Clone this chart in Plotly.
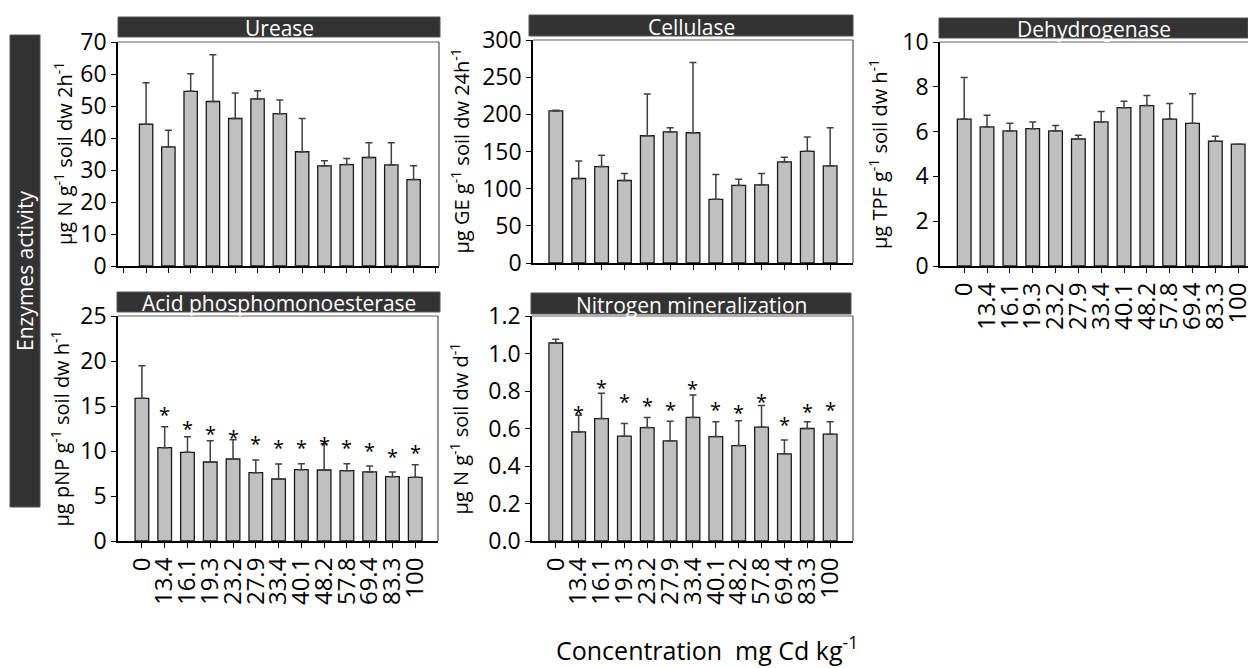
import plotly.graph_objects as go

W, H = 1248, 668
FONT = "Open Sans"

# ---------------- data ----------------
conc = ["0", "13.4", "16.1", "19.3", "23.2", "27.9", "33.4", "40.1", "48.2", "57.8", "69.4", "83.3", "100"]

urease = [44.3, 37.2, 54.6, 51.4, 46.1, 52.2, 47.6, 35.7, 31.3, 31.7, 33.9, 31.6, 27.0]
urease_sd = [13.0, 5.2, 5.5, 14.6, 8.0, 2.6, 4.3, 10.4, 1.6, 1.9, 4.6, 6.9, 4.3]

cellulase = [204.6, 113.7, 129.7, 111.0, 171.2, 176.5, 175.2, 85.6, 104.3, 105.2, 136.0, 150.2, 130.6]
cellulase_sd = [0.9, 23.6, 15.2, 9.4, 56.2, 5.4, 94.5, 33.4, 8.5, 15.2, 6.2, 19.2, 51.3]

dehydrogenase = [6.56, 6.21, 6.03, 6.13, 6.03, 5.67, 6.43, 7.07, 7.16, 6.56, 6.37, 5.57, 5.44]
dehydrogenase_sd = [1.85, 0.52, 0.34, 0.30, 0.24, 0.17, 0.47, 0.28, 0.45, 0.70, 1.32, 0.22, 0.0]

acid_p = [15.85, 10.37, 9.85, 8.78, 9.11, 7.59, 6.89, 7.93, 7.89, 7.81, 7.67, 7.15, 7.07]
acid_p_sd = [3.63, 2.33, 1.74, 2.37, 2.15, 1.41, 1.67, 0.66, 2.92, 0.78, 0.66, 0.52, 1.41]
acid_p_star = [None, 14.33, 12.74, 12.22, 11.74, 11.11, 10.56, 10.56, 10.93, 10.56, 10.30, 9.63, 10.07]

nitrogen = [1.056, 0.582, 0.653, 0.559, 0.605, 0.534, 0.659, 0.557, 0.509, 0.607, 0.465, 0.600, 0.570]
nitrogen_sd = [0.020, 0.089, 0.135, 0.068, 0.054, 0.105, 0.120, 0.079, 0.132, 0.116, 0.073, 0.036, 0.066]
nitrogen_star = [None, 0.689, 0.831, 0.754, 0.733, 0.712, 0.822, 0.712, 0.698, 0.756, 0.630, 0.701, 0.712]

titles = ["Urease", "Cellulase", "Dehydrogenase", "Acid phosphomonoesterase", "Nitrogen mineralization"]
ytitles = [
    "µg N g<sup>-1</sup> soil dw 2h<sup>-1</sup>",
    "µg GE g<sup>-1</sup> soil dw 24h<sup>-1</sup>",
    "µg TPF g<sup>-1</sup> soil dw h<sup>-1</sup>",
    "µg pNP g<sup>-1</sup> soil dw h<sup>-1</sup>",
    "µg N g<sup>-1</sup> soil dw d<sup>-1</sup>",
]

# ---------------- layout geometry (pixels) ----------------
panels = [
    dict(box=(118, 439, 42, 266), bar=(118, 440, 17, 37), ytx=63, xr=(-1.26, 13.14), yr=(0, 70), dt=10, lab=False, tv=list(range(-1, 14)), fmt=None, right=True),
    dict(box=(533, 853, 40, 263), bar=(529, 853, 15, 36), ytx=460, xr=(-1.0, 13.0), yr=(0, 300), dt=50, lab=False, tv=list(range(13)), fmt=None, right=True),
    dict(box=(940, 1248, 42, 266), bar=(939, 1248, 18, 38), ytx=878, xr=(-1.06, 12.43), yr=(0, 10), dt=2, lab=True, tv=list(range(13)), fmt=None, right=False),
    dict(box=(118, 438, 316, 541), bar=(117, 440, 292, 312), ytx=60, xr=(-1.05, 13.0), yr=(0, 25), dt=5, lab=True, tv=list(range(13)), fmt=None, right=True),
    dict(box=(532, 853, 316, 541), bar=(531, 851, 293, 314), ytx=459, xr=(-1.04, 13.0), yr=(0, 1.2), dt=0.2, lab=True, tv=list(range(13)), fmt=".1f", right=True),
]

series = [(urease, urease_sd), (cellulase, cellulase_sd), (dehydrogenase, dehydrogenase_sd),
          (acid_p, acid_p_sd), (nitrogen, nitrogen_sd)]
stars = [None, None, None, acid_p_star, nitrogen_star]

def px(x):
    return x / W

def py(y):
    return 1 - y / H

fig = go.Figure()
layout = dict(
    width=W, height=H,
    margin=dict(l=0, r=0, t=0, b=0, autoexpand=False),
    paper_bgcolor="white", plot_bgcolor="white",
    showlegend=False,
    font=dict(family=FONT, color="black"),
)
shapes = []
annotations = []
xs = list(range(len(conc)))

for i, p in enumerate(panels):
    n = "" if i == 0 else str(i + 1)
    xa, ya = "x" + n, "y" + n
    vals, sd = series[i]
    fig.add_trace(go.Bar(
        x=xs, y=vals, xaxis=xa, yaxis=ya, width=0.6,
        marker=dict(color="#c0c0c0", line=dict(color="#1a1a1a", width=1.3)),
        error_y=dict(type="data", symmetric=False, array=sd, arrayminus=[0] * len(sd),
                     color="#404040", thickness=1.5, width=3.5),
    ))
    x0, x1, y0, y1 = p["box"]
    xax = dict(
        domain=[px(x0), px(x1)], range=list(p["xr"]), anchor=ya, automargin=False,
        showline=True, linecolor="black", linewidth=2,
        ticks="outside", ticklen=5, tickwidth=1.2, tickcolor="black",
        tickmode="array", tickvals=p["tv"],
        showticklabels=p["lab"], tickangle=-90, ticklabeloverflow="allow",
        tickfont=dict(size=24, family=FONT, color="black"),
        showgrid=False, zeroline=False, fixedrange=True,
    )
    if p["lab"]:
        xax["ticktext"] = conc
    layout["xaxis" + n] = xax
    layout["yaxis" + n] = dict(
        domain=[py(y1), py(y0)], range=list(p["yr"]), anchor=xa, automargin=False,
        showline=True, linecolor="black", linewidth=1.5,
        ticks="outside", ticklen=5, tickwidth=1.2, tickcolor="black",
        dtick=p["dt"], tick0=0, tickformat=p["fmt"],
        tickfont=dict(size=23, family=FONT, color="black"),
        showgrid=False, zeroline=False, fixedrange=True,
    )
    shapes.append(dict(type="line", xref="paper", yref="paper", x0=px(x0), x1=px(x1), y0=py(y0), y1=py(y0),
                       line=dict(color="#606060", width=1.2)))
    if p["right"]:
        shapes.append(dict(type="line", xref="paper", yref="paper", x0=px(x1), x1=px(x1), y0=py(y0), y1=py(y1),
                           line=dict(color="#505050", width=1.2)))
    bx0, bx1, by0, by1 = p["bar"]
    shapes.append(dict(type="rect", xref="paper", yref="paper", x0=px(bx0), x1=px(bx1), y0=py(by1), y1=py(by0),
                       fillcolor="#333333", line=dict(color="#555555", width=1)))
    annotations.append(dict(xref="paper", yref="paper", x=px((bx0 + bx1) / 2), y=py((by0 + by1) / 2),
                            text=titles[i], showarrow=False, xanchor="center", yanchor="middle",
                            font=dict(size=21, family=FONT, color="white"), yshift=-1))
    annotations.append(dict(xref="paper", yref="paper", x=px(p["ytx"]), y=py((y0 + y1) / 2),
                            text=ytitles[i], showarrow=False, textangle=-90,
                            xanchor="center", yanchor="middle",
                            font=dict(size=20, family=FONT, color="black")))
    if stars[i] is not None:
        for xi, sy in zip(xs, stars[i]):
            if sy is None:
                continue
            annotations.append(dict(xref=xa, yref=ya, x=xi, y=sy, text="*", showarrow=False,
                                    xanchor="center", yanchor="middle", yshift=-2,
                                    font=dict(size=20, family=FONT, color="black")))

shapes.append(dict(type="rect", xref="paper", yref="paper", x0=px(10), x1=px(40), y0=py(507), y1=py(35),
                   fillcolor="#333333", line=dict(color="#555555", width=1)))
annotations.append(dict(xref="paper", yref="paper", x=px(25), y=py(271), text="Enzymes activity",
                        showarrow=False, textangle=-90, xanchor="center", yanchor="middle",
                        font=dict(size=21, family=FONT, color="white")))

annotations.append(dict(xref="paper", yref="paper", x=px(707), y=py(648),
                        text="Concentration &nbsp;mg Cd kg<sup>-1</sup>", showarrow=False,
                        xanchor="center", yanchor="middle",
                        font=dict(size=25, family=FONT, color="black")))

layout["shapes"] = shapes
layout["annotations"] = annotations
fig.update_layout(**layout)
fig.write_html("out.html")
